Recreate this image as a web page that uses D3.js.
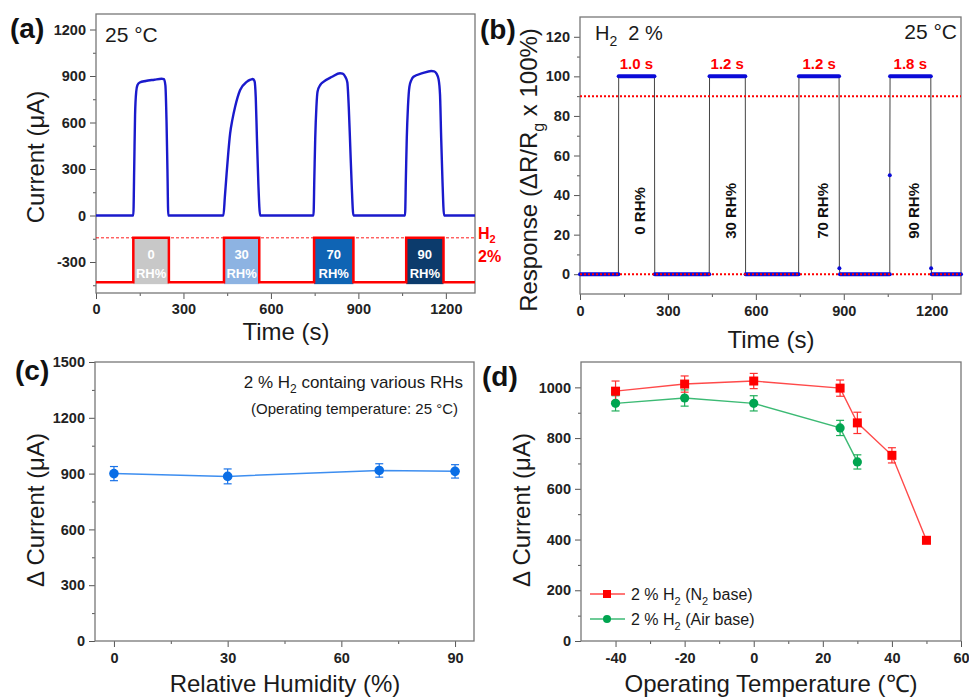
<!DOCTYPE html>
<html>
<head>
<meta charset="utf-8">
<script src="https://cdn.jsdelivr.net/npm/d3@7"></script>
<style>
body { margin: 0; background: #fff; }
svg { font-family: "Liberation Sans", Arial, sans-serif; }
.tick text { font-weight: bold; font-size: 14.5px; fill: #222; }
</style>
</head>
<body>
<div id="chart"></div>
<script>
// ---- (a) current transients at 25 °C
const timeA = [0, 128, 131, 134, 138, 142, 150, 170, 200, 225, 233, 238, 242, 245, 248,
  437, 442, 448, 454, 460, 468, 477, 494, 517, 530, 538, 544, 548, 552, 557, 563,
  746, 749, 752, 756, 760, 770, 780, 810, 837, 846, 855, 862, 867, 872, 877, 883,
  1060, 1063, 1066, 1070, 1075, 1082, 1089, 1120, 1150, 1160, 1168, 1175, 1180, 1184, 1188, 1194, 1300]
const currentA = [0, 0, 300, 650, 800, 840, 858, 868, 876, 882, 880, 840, 600, 300, 0,
  0, 120, 270, 410, 528, 620, 700, 808, 862, 876, 881, 865, 760, 500, 200, 0,
  0, 250, 500, 700, 800, 845, 862, 895, 918, 915, 895, 860, 700, 450, 200, 0,
  0, 250, 500, 700, 830, 875, 895, 918, 932, 930, 915, 880, 780, 500, 250, 0, 0]
const h2Pulses = [[128, 250], [439, 560], [748, 883], [1064, 1192]]
const h2Off = -430
const h2On = -144
const rhLabels = ["0", "30", "70", "90"]
const rhColors = ["#c8c8c8", "#8db3e2", "#0f64b4", "#0c3b6c"]

// ---- (b) response
const timeB = [0, 131, 132, 254, 255, 441, 442, 564, 565, 746, 747, 884, 885, 887, 1057, 1057, 1058, 1197, 1198, 1200, 1300]
const respB = [0, 0, 100, 100, 0, 0, 100, 100, 0, 0, 100, 100, 3, 0, 0, 50, 100, 100, 3, 0, 0]
const respTimes = ["1.0 s", "1.2 s", "1.2 s", "1.8 s"]
const respPulses = [[131, 254], [441, 564], [746, 886], [1057, 1197]]
const respRH = ["0 RH%", "30 RH%", "70 RH%", "90 RH%"]
const respLines = [0, 90]

// ---- (c) humidity
const rh = [0, 30, 70, 90]
const dCurRH = [900, 885, 917, 912]
const dCurRHErr = [38, 40, 36, 36]

// ---- (d) temperature
const tempN2 = [-40, -20, 0, 25, 30, 40, 50]
const dCurN2 = [985, 1013, 1025, 997, 860, 732, 397]
const dCurN2Err = [40, 32, 30, 32, 42, 30, 12]
const tempAir = [-40, -20, 0, 25, 30]
const dCurAir = [937, 958, 937, 840, 706]
const dCurAirErr = [30, 32, 30, 30, 28]

const svg = d3.select('#chart').append('svg')
  .attr('width', 969)
  .attr('height', 699)

const panel = function(box, xDom, yDom, ticks) {
  const x = d3.scaleLinear().domain(xDom).range([box.l, box.r])
  const y = d3.scaleLinear().domain(yDom).range([box.b, box.t])
  const g = svg.append('g')

  const gx = g.append('g').attr('transform', `translate(0,${box.b})`).attr('color', '#555')
  gx.call(d3.axisBottom(x).tickValues(ticks.xMajor).tickSize(6).tickPadding(ticks.xPad || 5).tickFormat(String))
  gx.append('g').call(d3.axisBottom(x).tickValues(ticks.xMinor).tickSize(3).tickFormat(''))
  gx.selectAll('.domain').remove()

  const gy = g.append('g').attr('transform', `translate(${box.l},0)`).attr('color', '#555')
  gy.call(d3.axisLeft(y).tickValues(ticks.yMajor).tickSize(6).tickPadding(4).tickFormat(String))
  gy.append('g').call(d3.axisLeft(y).tickValues(ticks.yMinor).tickSize(3).tickFormat(''))
  gy.selectAll('.domain').remove()

  g.append('rect')
    .attr('x', box.l).attr('y', box.t)
    .attr('width', box.r - box.l).attr('height', box.b - box.t)
    .attr('fill', 'none').attr('stroke', '#777').attr('stroke-width', 1.3)

  return { x, y, g }
}

// text with subscripts: parts = [[text, isSub], ...]
const richText = function(sel, parts, subSize, shift) {
  let cur = 0
  parts.forEach(([t, sub]) => {
    const want = sub ? shift : 0
    sel.append('tspan')
      .attr('dy', want - cur)
      .attr('font-size', sub ? subSize : null)
      .text(t)
    cur = want
  })
  return sel
}

const label = function(x, y, txt, opts) {
  const t = svg.append('text').attr('x', x).attr('y', y)
    .attr('font-size', opts.size)
    .attr('font-weight', opts.bold ? 'bold' : null)
    .attr('fill', opts.fill || '#1a1a1a')
    .attr('text-anchor', opts.anchor || 'start')
  if (opts.rotate) t.attr('transform', `rotate(-90,${x},${y})`)
  if (typeof txt === 'string') t.text(txt)
  else richText(t, txt, opts.subSize, opts.shift)
  return t
}

// ================= (a)
const A = panel({ l: 96, r: 475, t: 14, b: 293 }, [0, 1300], [-500, 1300], {
  xMajor: [0, 300, 600, 900, 1200], xMinor: [150, 450, 750, 1050],
  yMajor: [-300, 0, 300, 600, 900, 1200], yMinor: [-450, -150, 150, 450, 750, 1050]
})

A.g.append('line')
  .attr('x1', A.x(0)).attr('x2', A.x(1300))
  .attr('y1', A.y(h2On)).attr('y2', A.y(h2On))
  .attr('stroke', '#ff0000').attr('stroke-width', 0.9).attr('stroke-dasharray', '3,2')

A.g.selectAll('.rhbox')
  .data(h2Pulses)
  .enter().append('rect')
    .attr('x', d => A.x(d[0]))
    .attr('width', d => A.x(d[1]) - A.x(d[0]))
    .attr('y', A.y(h2On))
    .attr('height', A.y(h2Off) - A.y(h2On) + 2)
    .attr('fill', (d, i) => rhColors[i])

const h2Verts = [[0, h2Off]]
h2Pulses.forEach(p => {
  h2Verts.push([p[0], h2Off], [p[0], h2On], [p[1], h2On], [p[1], h2Off])
})
h2Verts.push([1300, h2Off])

A.g.append('path')
  .datum(h2Verts)
  .attr('fill', 'none').attr('stroke', '#ff0000').attr('stroke-width', 2.5)
  .attr('d', d3.line().x(d => A.x(d[0])).y(d => A.y(d[1])))

h2Pulses.forEach((p, i) => {
  const cx = (A.x(p[0]) + A.x(p[1])) / 2
  const top = A.y(h2On)
  A.g.append('text').attr('x', cx).attr('y', top + 21).attr('text-anchor', 'middle')
    .attr('font-size', 13).attr('font-weight', 'bold').attr('fill', '#fff').text(rhLabels[i])
  A.g.append('text').attr('x', cx).attr('y', top + 40).attr('text-anchor', 'middle')
    .attr('font-size', 13).attr('font-weight', 'bold').attr('fill', '#fff').text('RH%')
})

A.g.append('path')
  .datum(timeA.map((t, i) => [t, currentA[i]]))
  .attr('fill', 'none').attr('stroke', '#1a1acc').attr('stroke-width', 2.4)
  .attr('stroke-linejoin', 'round')
  .attr('d', d3.line().x(d => A.x(d[0])).y(d => A.y(d[1])).curve(d3.curveMonotoneX))

label(10, 38, '(a)', { size: 28, bold: true, fill: '#111' })
label(105, 42, '25 \u00b0C', { size: 21 })
label(478, 239, [['H', false], ['2', true]], { size: 16, bold: true, fill: '#ff0000', subSize: 11, shift: 4 })
label(478, 262, '2%', { size: 16, bold: true, fill: '#ff0000' })
label(44, 157, 'Current (\u03bcA)', { size: 24, anchor: 'middle', rotate: true })
label(286, 340, 'Time (s)', { size: 24, anchor: 'middle' })

// ================= (b)
const B = panel({ l: 580, r: 961, t: 17, b: 294 }, [0, 1300], [-10, 130], {
  xMajor: [0, 300, 600, 900, 1200], xMinor: [150, 450, 750, 1050], xPad: 6,
  yMajor: [0, 20, 40, 60, 80, 100, 120], yMinor: [10, 30, 50, 70, 90, 110]
})

const ptsB = timeB.map((t, i) => [t, respB[i]])

B.g.append('path')
  .datum(ptsB)
  .attr('fill', 'none').attr('stroke', '#444').attr('stroke-width', 1)
  .attr('d', d3.line().x(d => B.x(d[0])).y(d => B.y(d[1])))

// flat runs drawn as dense blue markers
const runs = []
for (let i = 0; i < ptsB.length - 1; i++) {
  if (ptsB[i][1] === ptsB[i + 1][1] && (ptsB[i][1] === 0 || ptsB[i][1] === 100)) runs.push([ptsB[i], ptsB[i + 1]])
}
B.g.selectAll('.run')
  .data(runs)
  .enter().append('line')
    .attr('x1', d => B.x(d[0][0])).attr('x2', d => B.x(d[1][0]))
    .attr('y1', d => B.y(d[0][1])).attr('y2', d => B.y(d[1][1]))
    .attr('stroke', '#0a0ad8').attr('stroke-width', 4).attr('stroke-linecap', 'round')

B.g.selectAll('.odd')
  .data(ptsB.filter(d => d[1] > 0 && d[1] < 100))
  .enter().append('circle')
    .attr('cx', d => B.x(d[0])).attr('cy', d => B.y(d[1])).attr('r', 2)
    .attr('fill', '#0a0ad8')

B.g.selectAll('.thr')
  .data(respLines)
  .enter().append('line')
    .attr('x1', B.x(0)).attr('x2', B.x(1300))
    .attr('y1', d => B.y(d)).attr('y2', d => B.y(d))
    .attr('stroke', '#ff0000').attr('stroke-width', 2).attr('stroke-dasharray', '2,2')

respPulses.forEach((p, i) => {
  const cx = B.x((p[0] + p[1]) / 2)
  B.g.append('text').attr('x', cx).attr('y', 69).attr('text-anchor', 'middle')
    .attr('font-size', 15).attr('font-weight', 'bold').attr('fill', '#ff0000').text(respTimes[i])
  B.g.append('text')
    .attr('transform', `translate(${cx + 3},${B.y(32)}) rotate(-90)`)
    .attr('text-anchor', 'middle').attr('dominant-baseline', 'central')
    .attr('font-size', 15).attr('font-weight', 'bold').attr('fill', '#111').text(respRH[i])
})

label(595, 40, [['H', false], ['2', true], ['\u00a0 2 %', false]], { size: 20, subSize: 14, shift: 6 })
label(957, 39, '25 \u00b0C', { size: 21, anchor: 'end' })
label(480, 39, '(b)', { size: 28, bold: true, fill: '#111' })
label(537, 170, [['Response (\u0394R/R', false], ['g', true], [' x 100%)', false]], { size: 24, anchor: 'middle', rotate: true, subSize: 16, shift: 7 })
label(771, 348, 'Time (s)', { size: 24, anchor: 'middle' })

// ================= (c)
const C = panel({ l: 95, r: 474, t: 362, b: 641 }, [-5, 95], [0, 1500], {
  xMajor: [0, 30, 60, 90], xMinor: [15, 45, 75], xPad: 6,
  yMajor: [0, 300, 600, 900, 1200, 1500], yMinor: [150, 450, 750, 1050, 1350]
})

const ptsC = rh.map((v, i) => ({ x: v, y: dCurRH[i], e: dCurRHErr[i] }))

C.g.append('path')
  .datum(ptsC)
  .attr('fill', 'none').attr('stroke', '#3d8ef0').attr('stroke-width', 1.5)
  .attr('d', d3.line().x(d => C.x(d.x)).y(d => C.y(d.y)))

const errBars = function(P, pts, color) {
  const eb = P.g.selectAll(null).data(pts).enter().append('g').attr('stroke', color).attr('stroke-width', 1.2)
  eb.append('line').attr('x1', d => P.x(d.x)).attr('x2', d => P.x(d.x))
    .attr('y1', d => P.y(d.y - d.e)).attr('y2', d => P.y(d.y + d.e))
  eb.append('line').attr('x1', d => P.x(d.x) - 4).attr('x2', d => P.x(d.x) + 4)
    .attr('y1', d => P.y(d.y - d.e)).attr('y2', d => P.y(d.y - d.e))
  eb.append('line').attr('x1', d => P.x(d.x) - 4).attr('x2', d => P.x(d.x) + 4)
    .attr('y1', d => P.y(d.y + d.e)).attr('y2', d => P.y(d.y + d.e))
}

errBars(C, ptsC, '#1a73e8')
C.g.selectAll('.pt').data(ptsC).enter().append('circle')
  .attr('cx', d => C.x(d.x)).attr('cy', d => C.y(d.y)).attr('r', 4.8).attr('fill', '#0a6ee6')

label(15, 380, '(c)', { size: 28, bold: true, fill: '#111' })
label(463, 388, [['2 % H', false], ['2', true], [' containg various RHs', false]], { size: 17, anchor: 'end', subSize: 12, shift: 5 })
label(458, 414, '(Operating temperature: 25 \u00b0C)', { size: 15, anchor: 'end' })
label(44, 510, '\u0394 Current (\u03bcA)', { size: 24, anchor: 'middle', rotate: true })
label(285, 692, 'Relative Humidity (%)', { size: 24, anchor: 'middle' })

// ================= (d)
const D = panel({ l: 581, r: 961, t: 362, b: 641 }, [-50, 60], [0, 1100], {
  xMajor: [-40, -20, 0, 20, 40, 60], xMinor: [-30, -10, 10, 30, 50], xPad: 6,
  yMajor: [0, 200, 400, 600, 800, 1000], yMinor: [100, 300, 500, 700, 900]
})

const ptsN2 = tempN2.map((v, i) => ({ x: v, y: dCurN2[i], e: dCurN2Err[i] }))
const ptsAir = tempAir.map((v, i) => ({ x: v, y: dCurAir[i], e: dCurAirErr[i] }))
const lineD = d3.line().x(d => D.x(d.x)).y(d => D.y(d.y))

D.g.append('path').datum(ptsAir).attr('fill', 'none').attr('stroke', '#3cba74').attr('stroke-width', 1.4).attr('d', lineD)
D.g.append('path').datum(ptsN2).attr('fill', 'none').attr('stroke', '#ff4a4a').attr('stroke-width', 1.4).attr('d', lineD)
errBars(D, ptsAir, '#1fae5a')
errBars(D, ptsN2, '#ff3030')
D.g.selectAll('.air').data(ptsAir).enter().append('circle')
  .attr('cx', d => D.x(d.x)).attr('cy', d => D.y(d.y)).attr('r', 4.6).attr('fill', '#00a550')
D.g.selectAll('.n2').data(ptsN2).enter().append('rect')
  .attr('x', d => D.x(d.x) - 4.5).attr('y', d => D.y(d.y) - 4.5)
  .attr('width', 9).attr('height', 9).attr('fill', '#ff0000')

// legend
const legend = [
  { color: '#ff4a4a', fill: '#ff0000', shape: 'square', text: [['2 % H', false], ['2', true], [' (N', false], ['2', true], [' base)', false]] },
  { color: '#3cba74', fill: '#00a550', shape: 'circle', text: [['2 % H', false], ['2', true], [' (Air base)', false]] }
]
legend.forEach((d, i) => {
  const ly = 594 + i * 25
  D.g.append('line').attr('x1', 590).attr('x2', 625).attr('y1', ly).attr('y2', ly)
    .attr('stroke', d.color).attr('stroke-width', 1.4)
  if (d.shape === 'square') {
    D.g.append('rect').attr('x', 603).attr('y', ly - 4).attr('width', 8).attr('height', 8).attr('fill', d.fill)
  } else {
    D.g.append('circle').attr('cx', 607).attr('cy', ly).attr('r', 4).attr('fill', d.fill)
  }
  label(631, ly + 6, d.text, { size: 16, subSize: 11, shift: 5 })
})

label(482, 386, '(d)', { size: 28, bold: true, fill: '#111' })
label(530, 510, '\u0394 Current (\u03bcA)', { size: 24, anchor: 'middle', rotate: true })
label(771, 692, 'Operating Temperature (\u2103)', { size: 24, anchor: 'middle' })
</script>
</body>
</html>
